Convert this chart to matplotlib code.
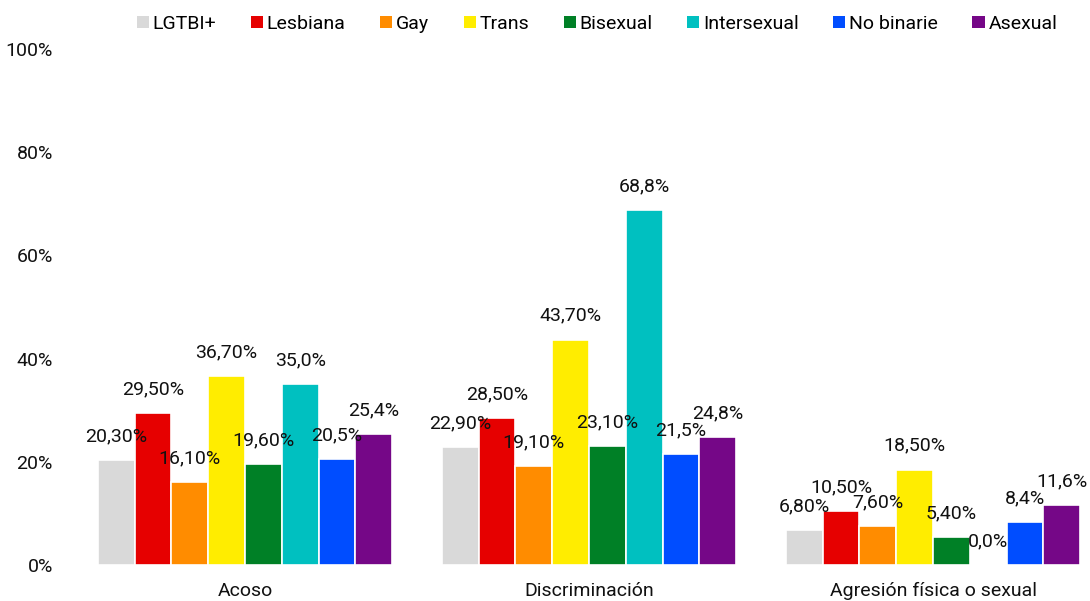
import matplotlib
matplotlib.use("Agg")
import matplotlib.pyplot as plt
from matplotlib.patches import Patch
import numpy as np

plt.rcParams['font.family'] = ['Roboto', 'DejaVu Sans']

categories = ["Acoso", "Discriminación", "Agresión física o sexual"]
series = ["LGTBI+", "Lesbiana", "Gay", "Trans", "Bisexual", "Intersexual", "No binarie", "Asexual"]
colors = ["#D9D9D9", "#E60000", "#FF8C00", "#FFED00", "#008026", "#00C0C0", "#004DFF", "#750787"]

values = {
    "LGTBI+":      [20.3, 22.9, 6.8],
    "Lesbiana":    [29.5, 28.5, 10.5],
    "Gay":         [16.1, 19.1, 7.6],
    "Trans":       [36.7, 43.7, 18.5],
    "Bisexual":    [19.6, 23.1, 5.4],
    "Intersexual": [35.0, 68.8, 0.0],
    "No binarie":  [20.5, 21.5, 8.4],
    "Asexual":     [25.4, 24.8, 11.6],
}
labels = {
    "LGTBI+":      ["20,30%", "22,90%", "6,80%"],
    "Lesbiana":    ["29,50%", "28,50%", "10,50%"],
    "Gay":         ["16,10%", "19,10%", "7,60%"],
    "Trans":       ["36,70%", "43,70%", "18,50%"],
    "Bisexual":    ["19,60%", "23,10%", "5,40%"],
    "Intersexual": ["35,0%", "68,8%", "0,0%"],
    "No binarie":  ["20,5%", "21,5%", "8,4%"],
    "Asexual":     ["25,4%", "24,8%", "11,6%"],
}
yticks = [0, 20, 40, 60, 80, 100]
ytick_labels = ["0%", "20%", "40%", "60%", "80%", "100%"]

W, H = 1090, 601
fig = plt.figure(figsize=(W / 100, H / 100), dpi=100)
ax_left, ax_right = 73, 1090
ax_bot, ax_top = 565, 49
ax = fig.add_axes([ax_left / W, (H - ax_bot) / H, (ax_right - ax_left) / W, (ax_bot - ax_top) / H])

FS = 14
TXT = "#111111"
group_px = 344.0
x = np.arange(len(categories))
bw = 36.8 / group_px
n = len(series)
for i, s in enumerate(series):
    xs = x + (i - (n - 1) / 2) * bw
    ax.bar(xs, values[s], width=bw, color=colors[i], edgecolor="white", linewidth=1.2, label=s)
    for xx, v, lab in zip(xs, values[s], labels[s]):
        ax.annotate(lab, (xx, v), xytext=(0, 13.5), textcoords="offset points",
                    ha="center", va="baseline", fontsize=FS, color=TXT)

ax.set_xlim(-0.5, -0.5 + (ax_right - ax_left) / group_px)
ax.set_ylim(0, 100)
ax.set_yticks(yticks)
ax.set_yticklabels(ytick_labels, fontsize=FS, color=TXT)
ax.set_xticks(x)
ax.set_xticklabels(categories, fontsize=FS, color=TXT)
ax.tick_params(axis="both", length=0)
ax.tick_params(axis="y", pad=14.5)
ax.tick_params(axis="x", pad=12)
for sp in ax.spines.values():
    sp.set_visible(False)

handles = [Patch(facecolor=c, edgecolor="none") for c in colors]
fig.legend(handles, series, loc="center", bbox_to_anchor=(597 / W, 1 - 24 / H), ncol=8,
           frameon=False, fontsize=FS, handlelength=0.62, handleheight=0.62,
           handletextpad=0.2, columnspacing=1.77, borderaxespad=0)

fig.savefig("out.png", dpi=100)
